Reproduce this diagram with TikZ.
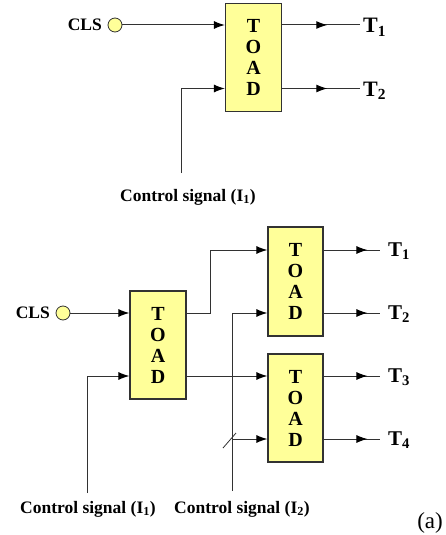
\documentclass[tikz,border=0pt]{standalone}
\usepackage{fontspec}
\setmainfont{Liberation Serif}
\usetikzlibrary{arrows.meta, positioning, calc, decorations.markings}

\definecolor{toadyellow}{RGB}{255,255,153}
\definecolor{wiregray}{RGB}{50,50,50}

\tikzset{
  toad/.style={draw=wiregray, line width=1.2pt, fill=toadyellow, minimum width=56pt,
    minimum height=108pt, inner sep=0pt, align=center,
    font=\fontsize{20}{21}\selectfont\bfseries},
  port/.style={circle, draw=wiregray, line width=0.8pt, fill=toadyellow,
    minimum size=14pt, inner sep=0pt},
  wire/.style={draw=wiregray, line width=1pt},
  feed/.style={wire, -{Latex[length=11pt,width=8pt,color=black]}},
  midarrow/.style={wire, postaction={decorate}, decoration={markings,
    mark=at position #1 with {\arrow{Latex[length=11pt,width=8pt,color=black]}}}},
  lbl/.style={font=\fontsize{17.5}{20}\selectfont\bfseries, inner sep=0pt, anchor=base},
  outlbl/.style={font=\fontsize{21}{24}\selectfont\bfseries, inner sep=0pt, anchor=base west},
}

\begin{document}
\begin{tikzpicture}[x=1pt,y=-1pt]
\useasboundingbox (0,0) rectangle (445,535);

% ---- single TOAD ----
\node[toad] (toad) at (253.5,57.5) {T\\O\\A\\D};
\node[port] (clsport) at (115,25) {};
\node[lbl, anchor=east] (clsname) at (102,25) {CLS};
\coordinate (toadin1) at (toad.west |- clsport);
\coordinate (toadin2) at ($(toad.west)+(0,31)$);
\coordinate (ctrltop) at (181,173);
\draw[feed] (clsport) -- (toadin1);
\draw[feed] (ctrltop) |- (toadin2);
\node[outlbl, font=\fontsize{22}{24}\selectfont\bfseries] (outA1) at (363,33) {T\textsubscript{1}};
\node[outlbl, font=\fontsize{22}{24}\selectfont\bfseries] (outA2) at (363,96) {T\textsubscript{2}};
\draw[midarrow=0.58] (toad.east |- toadin1) -- (toad.east |- toadin1 -| 360,0);
\draw[midarrow=0.58] (toad.east |- toadin2) -- (toad.east |- toadin2 -| 360,0);
\node[lbl] (ctrltopname) at (188,201) {Control signal (I\textsubscript{1})};

% ---- cascade of three TOADs ----
\node[toad] (toadA) at (158,345) {T\\O\\A\\D};
\node[toad, minimum width=55pt, minimum height=109pt] (toadB) at (295.5,281.5) {T\\O\\A\\D};
\node[toad, minimum width=55pt] (toadC) at (295.5,408) {T\\O\\A\\D};

\node[port] (clsportB) at (63,313) {};
\node[lbl, anchor=east] (clsnameB) at (50,313) {CLS};
\coordinate (Ain1) at (toadA.west |- clsportB);
\coordinate (Ain2) at (toadA.west |- 0,376);
\coordinate (Bin1) at (toadB.west |- 0,250);
\coordinate (Bin2) at (toadB.west |- 0,313);
\coordinate (Cin1) at (toadC.west |- 0,376);
\coordinate (Cin2) at (toadC.west |- 0,439);
\coordinate (ctrlI1) at (87,493);
\coordinate (ctrlI2) at (232,491);
\coordinate (splitI2) at (232,439);

\draw[feed] (clsportB) -- (Ain1);
\draw[feed] (ctrlI1) |- (Ain2);
\draw[feed] (toadA.east |- Ain1) -- (210,313) |- (Bin1);
\draw[feed] (toadA.east |- Ain2) -- (Cin1);
\draw[feed] (ctrlI2) |- (Bin2);
\draw[feed] (splitI2) -- (Cin2);
\draw[wiregray, line width=0.8pt] ($(splitI2)+(-9,9)$) -- ($(splitI2)+(4,-6)$);

\foreach \row/\name/\num in {250/outB1/1, 313/outB2/2, 376/outB3/3, 439/outB4/4} {
  \node[outlbl] (\name) at (388,\row+6) {T\textsubscript{\num}};
  \draw[midarrow=0.78] (323,\row) -- (380,\row);
}

\node[lbl] (ctrlI1name) at (88,513) {Control signal (I\textsubscript{1})};
\node[lbl] (ctrlI2name) at (242,513) {Control signal (I\textsubscript{2})};
\node[font=\fontsize{23}{26}\selectfont, inner sep=0pt, anchor=base east] (caption) at (443,528) {(a)};
\end{tikzpicture}
\end{document}
